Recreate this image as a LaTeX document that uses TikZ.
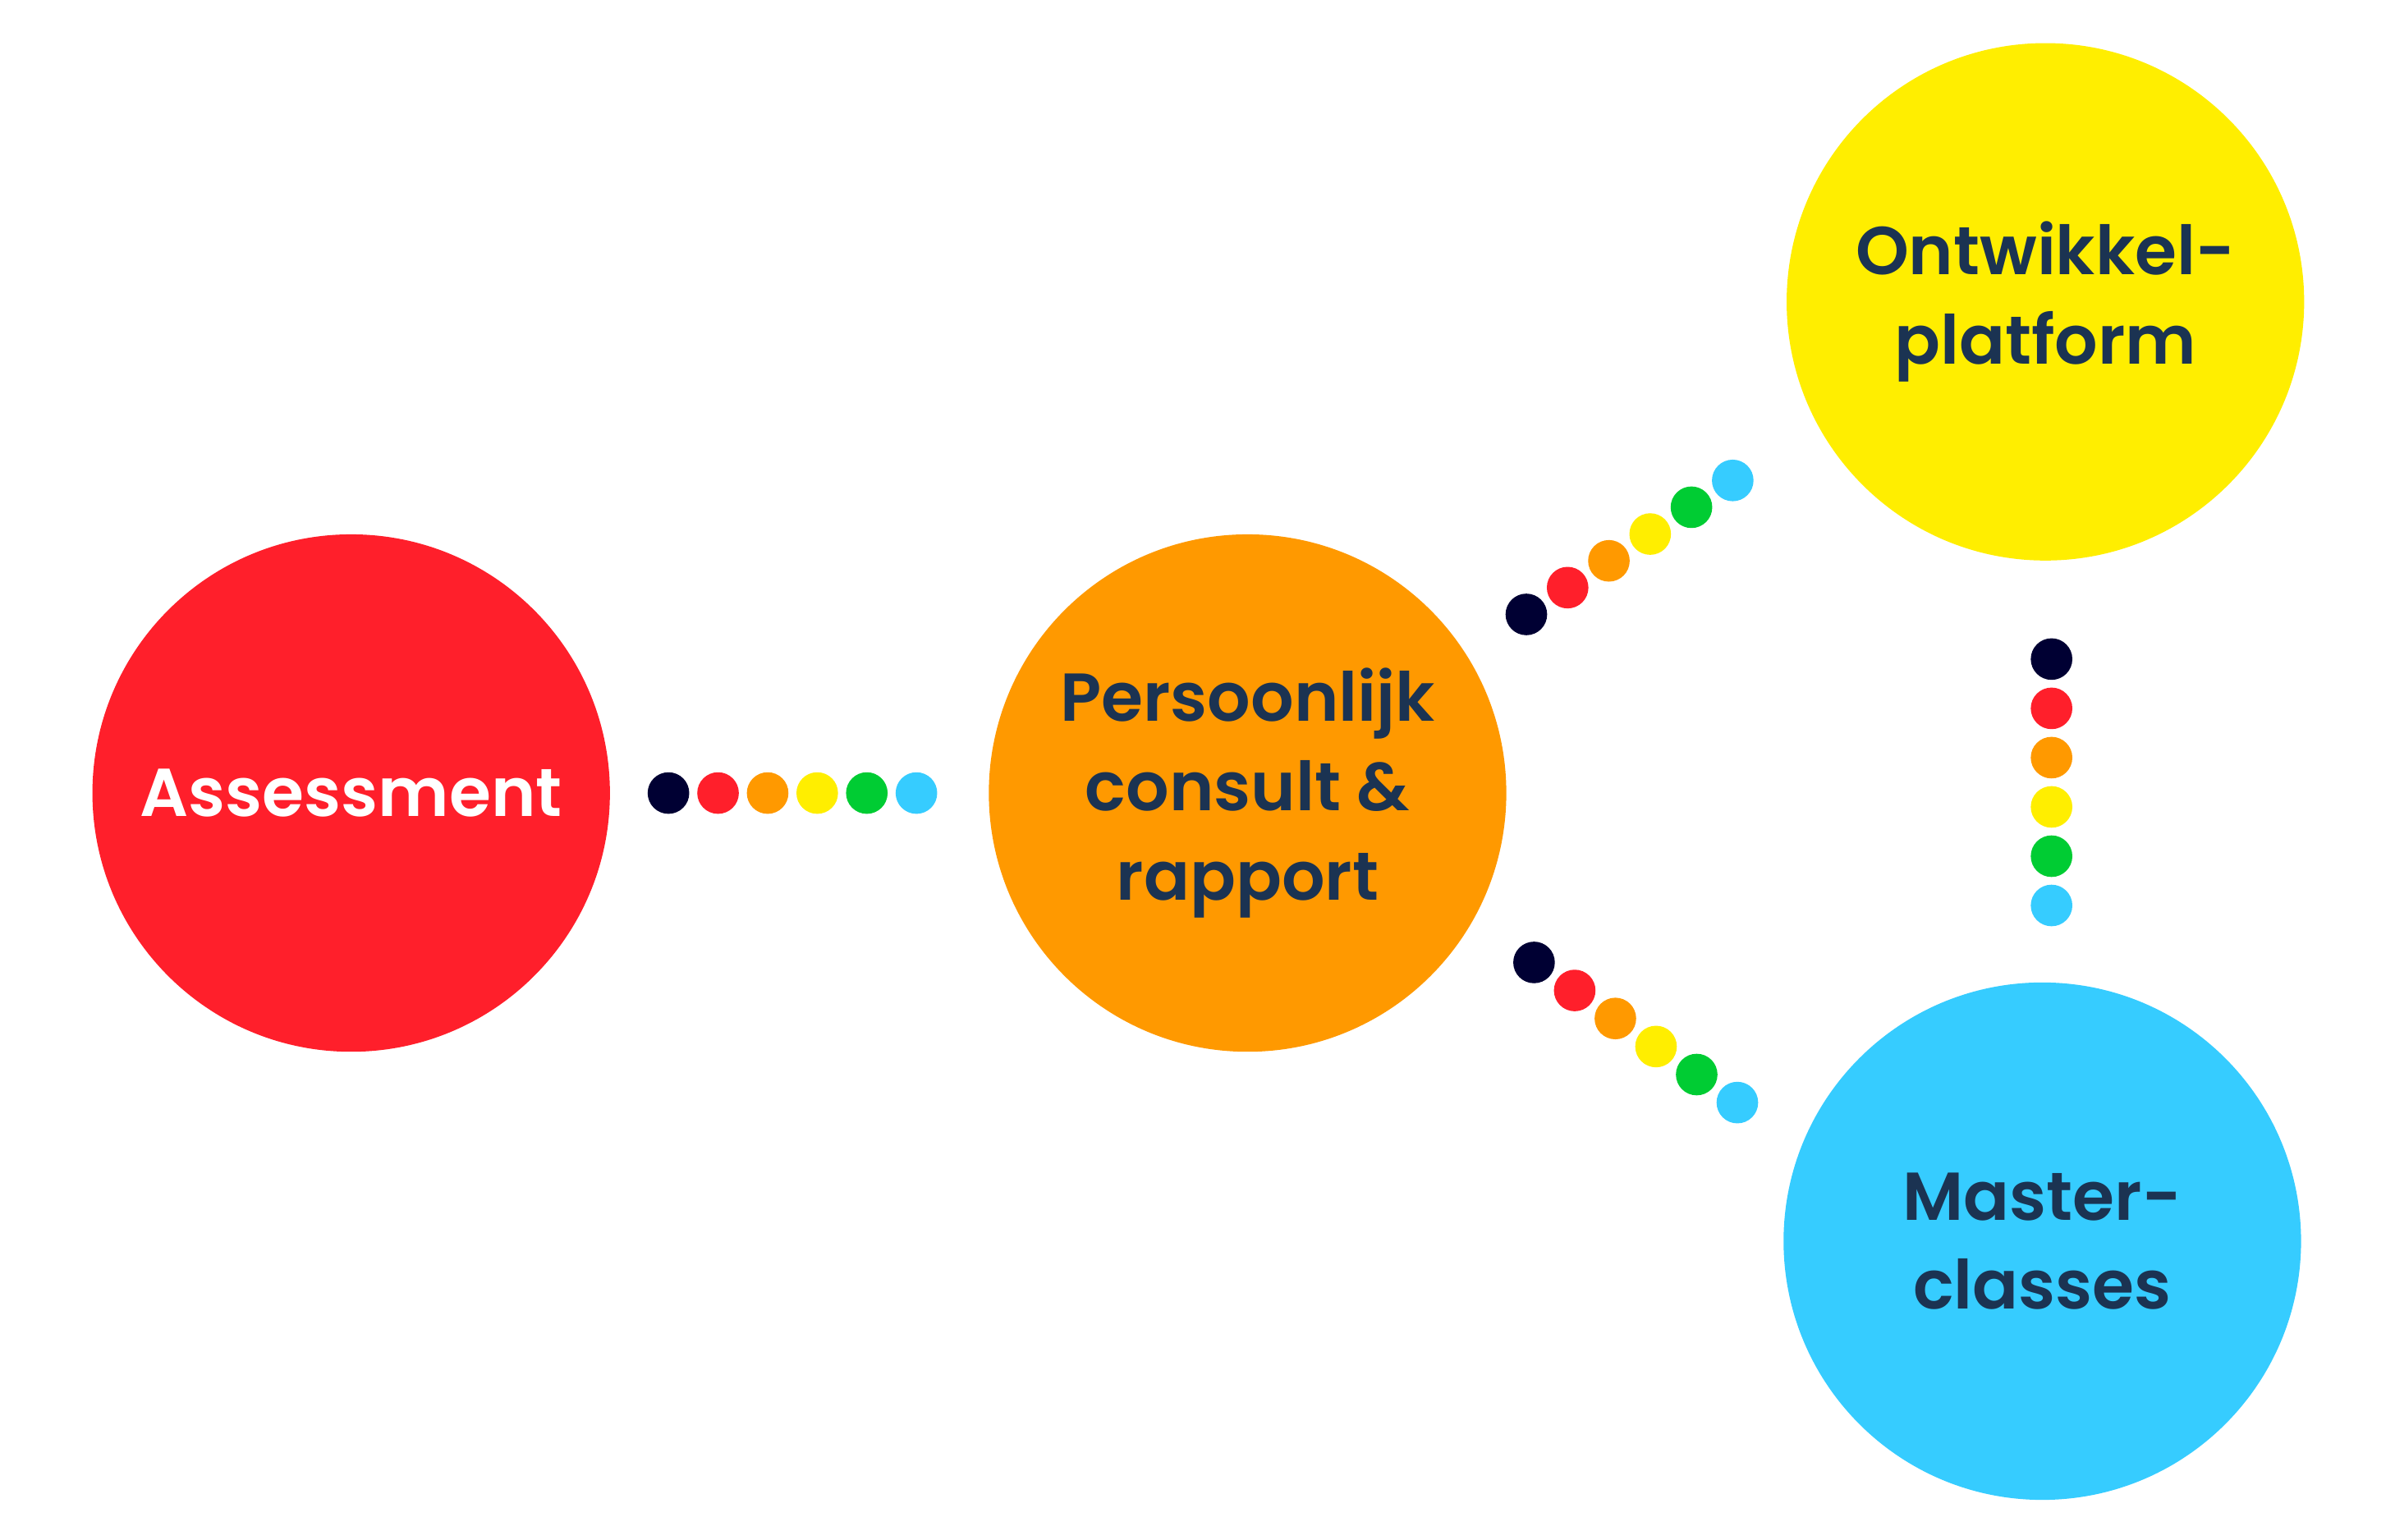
\documentclass[tikz,border=0pt]{standalone}
\usepackage{fontspec}
\setmainfont{Poppins}[BoldFont={* SemiBold}]
\definecolor{cred}{HTML}{FF1F2B}
\definecolor{corange}{HTML}{FF9900}
\definecolor{cyellow}{HTML}{FFEE00}
\definecolor{cgreen}{HTML}{00CC33}
\definecolor{ccyan}{HTML}{36CCFF}
\definecolor{cnavy}{HTML}{000033}
\definecolor{ctext}{HTML}{1B3352}
\begin{document}
\begin{tikzpicture}[x=1pt,y=-1pt,
  big/.style={circle,minimum size=336pt,inner sep=0pt,align=center,font=\bfseries\fontsize{44}{58}\selectfont,text=ctext},
  dot/.style={circle,minimum size=27pt,inner sep=0pt,fill=#1}]
\useasboundingbox (0,0) rectangle (1555,1000);
\node[big,fill=cred,text=white] (a) at (228,515) {Assessment};
\node[big,fill=corange] (p) at (810,515) {Persoonlijk\\consult \&\\rapport};
\node[big,fill=cyellow] (o) at (1328,196) {Ontwikkel-\\platform};
\node[big,fill=ccyan] (m) at (1326,806) {Master-\\classes};
\foreach \n/\c [count=\i] in {cnavy/cnavy,cred/cred,corange/corange,cyellow/cyellow,cgreen/cgreen,ccyan/ccyan}{
  \node[dot=\c] (h\i) at ({434+32.2*(\i-1)},515) {};
  \node[dot=\c] (u\i) at ({991+26.8*(\i-1)},{399-17.4*(\i-1)}) {};
  \node[dot=\c] (v\i) at (1332,{428+32*(\i-1)}) {};
  \node[dot=\c] (l\i) at ({996+26.4*(\i-1)},{625+18.2*(\i-1)}) {};
}
\end{tikzpicture}
\end{document}
